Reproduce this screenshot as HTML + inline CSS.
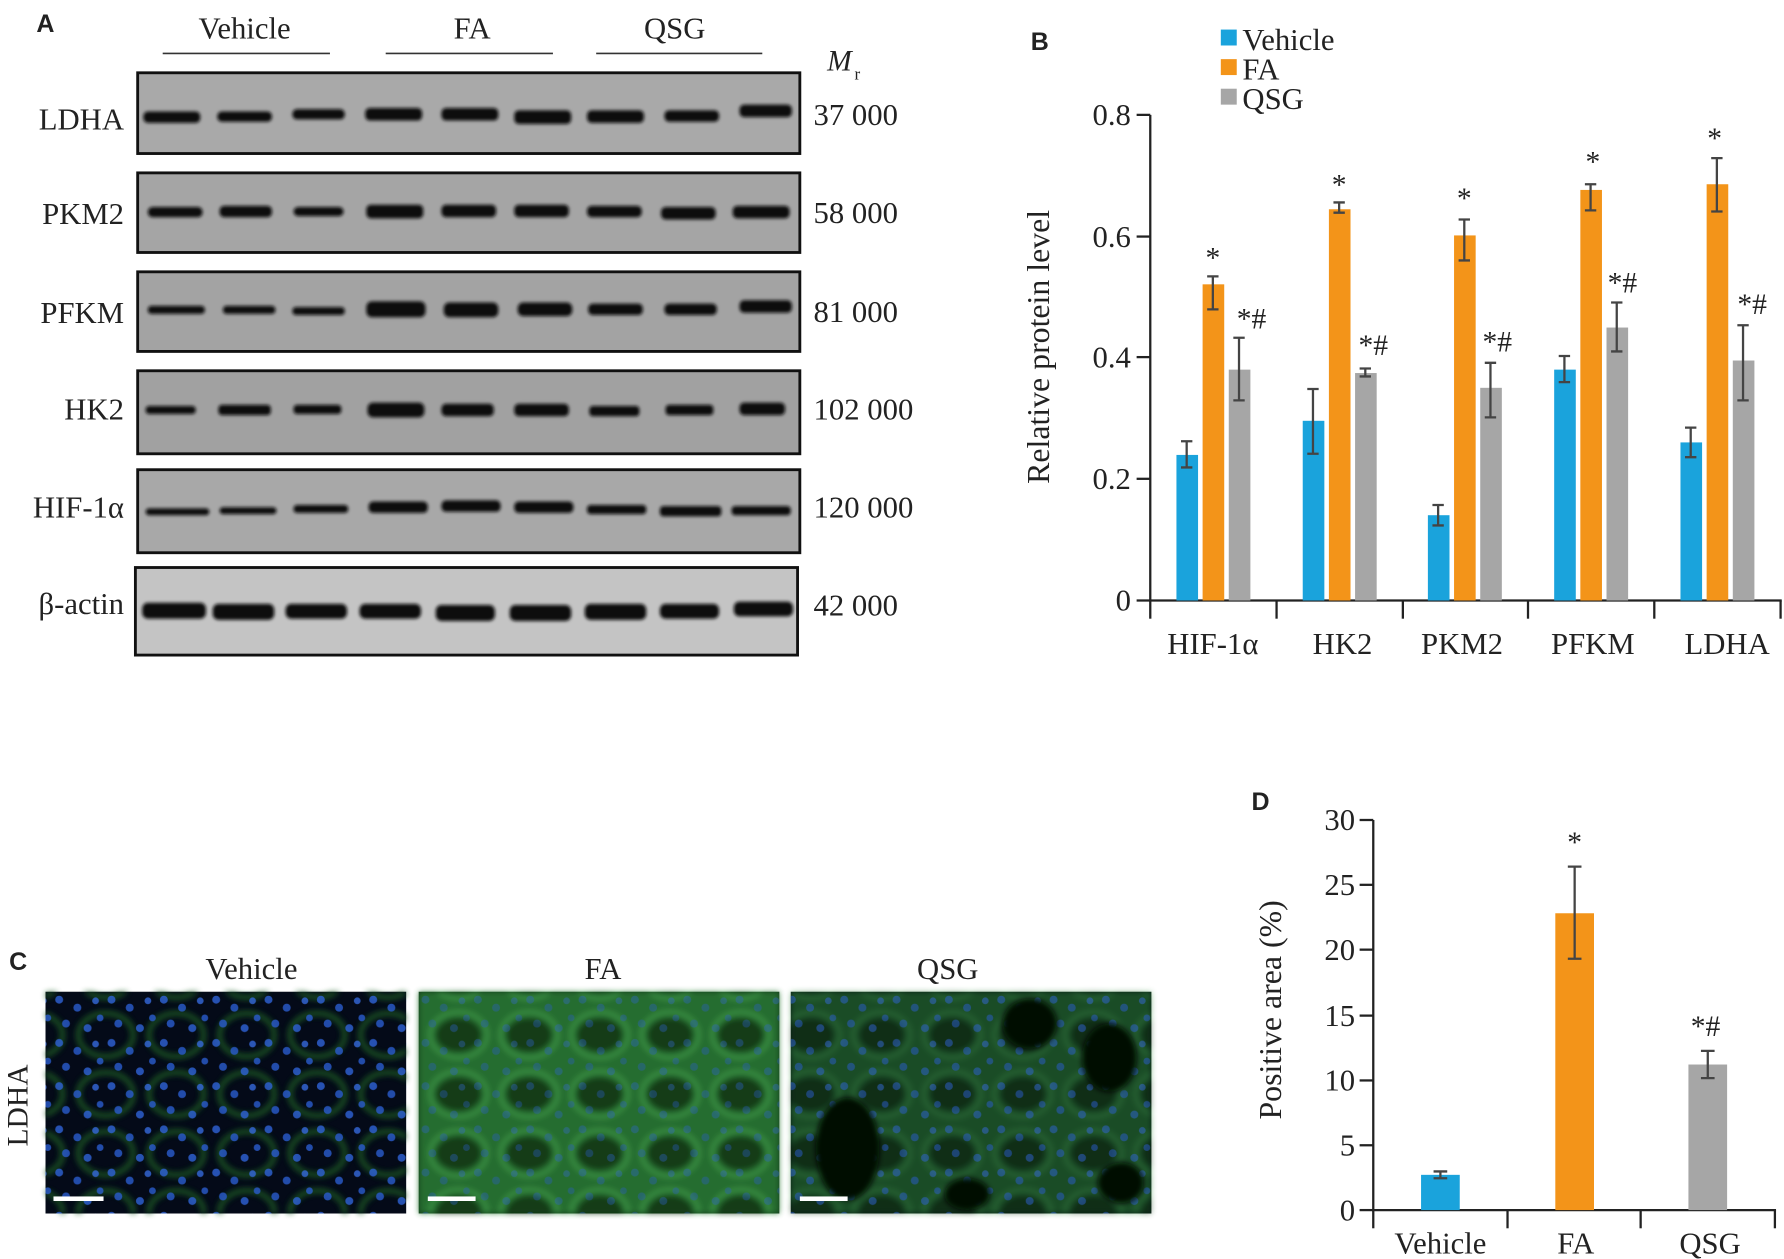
<!DOCTYPE html>
<html><head><meta charset="utf-8"><style>
html,body{margin:0;padding:0;background:#fff;}
svg{display:block;}
text{font-family:"Liberation Serif",serif;fill:#222;}
.pl{font-family:"Liberation Sans",sans-serif;font-weight:bold;font-size:22px;}
</style></head><body>
<svg width="1784" height="1259" viewBox="0 0 1568 1107" preserveAspectRatio="none" xmlns="http://www.w3.org/2000/svg">
<defs>
<filter id="bl"><feGaussianBlur stdDeviation="2.5"/></filter>
<filter id="bl1"><feGaussianBlur stdDeviation="1.3"/></filter>
<pattern id="nuc" width="46" height="38" patternUnits="userSpaceOnUse">
<circle cx="6" cy="5" r="3.5" fill="#2f63d8"/><circle cx="22" cy="12" r="3.5" fill="#2a5ccf"/><circle cx="38" cy="6" r="3" fill="#3569dc"/><circle cx="12" cy="26" r="3.5" fill="#2a5ccf"/><circle cx="31" cy="30" r="3.5" fill="#2f63d8"/><circle cx="42" cy="21" r="3" fill="#2a5ccf"/></pattern>
<pattern id="ring" width="62" height="52" patternUnits="userSpaceOnUse">
<ellipse cx="31" cy="26" rx="24" ry="19" fill="none" stroke="#1a5a24" stroke-width="5"/></pattern>
<pattern id="ringB" width="62" height="52" patternUnits="userSpaceOnUse">
<rect width="62" height="52" fill="#2a7a34"/>
<ellipse cx="31" cy="26" rx="20" ry="15" fill="#123c18"/>
<ellipse cx="31" cy="26" rx="25" ry="20" fill="none" stroke="#45a850" stroke-width="3"/></pattern>
</defs>

<!-- Panel A -->
<text x="32" y="28" class="pl">A</text>
<g font-size="27" text-anchor="middle">
<text x="215" y="34">Vehicle</text><text x="415" y="34">FA</text><text x="593" y="34">QSG</text></g>
<g stroke="#333" stroke-width="1.5"><line x1="143" y1="47" x2="290" y2="47"/><line x1="339" y1="47" x2="486" y2="47"/><line x1="524" y1="47" x2="670" y2="47"/></g>
<text x="727" y="62" font-size="26" font-style="italic">M</text><text x="751" y="70" font-size="15">r</text>

<g id="blots">
<rect x="121" y="64" width="582" height="71" fill="#a9a9a9" stroke="#111" stroke-width="2.5"/>
<rect x="121" y="152" width="582" height="70" fill="#a5a5a5" stroke="#111" stroke-width="2.5"/>
<rect x="121" y="239" width="582" height="70" fill="#a3a3a3" stroke="#111" stroke-width="2.5"/>
<rect x="121" y="326" width="582" height="73" fill="#a1a1a1" stroke="#111" stroke-width="2.5"/>
<rect x="121" y="413" width="582" height="73" fill="#a8a8a8" stroke="#111" stroke-width="2.5"/>
<rect x="119" y="499" width="582" height="77" fill="#c4c4c4" stroke="#111" stroke-width="2.5"/>
<g fill="#111" filter="url(#bl1)">
<rect x="126" y="98" width="50" height="10" rx="4"/><rect x="191" y="98" width="48" height="9" rx="4"/><rect x="257" y="96" width="46" height="9" rx="4"/><rect x="321" y="95" width="50" height="11" rx="4"/><rect x="388" y="95" width="50" height="11" rx="4"/><rect x="452" y="97" width="50" height="12" rx="4"/><rect x="516" y="97" width="50" height="11" rx="4"/><rect x="584" y="97" width="48" height="10" rx="4"/><rect x="650" y="92" width="46" height="11" rx="4"/>
<rect x="130" y="182" width="48" height="9" rx="4"/><rect x="193" y="181" width="46" height="10" rx="4"/><rect x="258" y="182" width="44" height="8" rx="4"/><rect x="322" y="180" width="50" height="12" rx="4"/><rect x="388" y="180" width="48" height="11" rx="4"/><rect x="452" y="180" width="48" height="11" rx="4"/><rect x="516" y="181" width="48" height="10" rx="4"/><rect x="581" y="182" width="48" height="11" rx="4"/><rect x="644" y="181" width="50" height="11" rx="4"/>
<rect x="130" y="269" width="50" height="7" rx="3"/><rect x="196" y="269" width="46" height="7" rx="3"/><rect x="257" y="270" width="46" height="7" rx="3"/><rect x="322" y="265" width="52" height="14" rx="5"/><rect x="390" y="266" width="48" height="13" rx="5"/><rect x="455" y="266" width="48" height="12" rx="5"/><rect x="517" y="267" width="48" height="10" rx="4"/><rect x="584" y="267" width="46" height="10" rx="4"/><rect x="650" y="264" width="46" height="11" rx="4"/>
<rect x="128" y="357" width="44" height="7" rx="3"/><rect x="192" y="356" width="46" height="9" rx="3"/><rect x="258" y="356" width="42" height="8" rx="3"/><rect x="323" y="354" width="50" height="13" rx="5"/><rect x="388" y="355" width="46" height="11" rx="4"/><rect x="452" y="355" width="48" height="11" rx="4"/><rect x="518" y="357" width="44" height="9" rx="3"/><rect x="585" y="356" width="42" height="9" rx="3"/><rect x="650" y="354" width="40" height="11" rx="4"/>
<rect x="128" y="447" width="56" height="6" rx="3"/><rect x="193" y="446" width="50" height="6" rx="3"/><rect x="258" y="444" width="48" height="7" rx="3"/><rect x="324" y="441" width="52" height="10" rx="4"/><rect x="388" y="440" width="52" height="10" rx="4"/><rect x="452" y="441" width="52" height="10" rx="4"/><rect x="516" y="444" width="52" height="8" rx="3"/><rect x="580" y="445" width="54" height="9" rx="3"/><rect x="643" y="445" width="52" height="8" rx="3"/>
<rect x="125" y="530" width="56" height="14" rx="5"/><rect x="187" y="531" width="54" height="14" rx="5"/><rect x="251" y="531" width="54" height="13" rx="5"/><rect x="316" y="531" width="54" height="13" rx="5"/><rect x="383" y="532" width="52" height="14" rx="5"/><rect x="448" y="532" width="54" height="14" rx="5"/><rect x="514" y="531" width="54" height="14" rx="5"/><rect x="580" y="531" width="52" height="13" rx="5"/><rect x="645" y="529" width="52" height="13" rx="5"/>
</g></g>
<g font-size="27" text-anchor="end">
<text x="109" y="114">LDHA</text><text x="109" y="197">PKM2</text><text x="109" y="284">PFKM</text><text x="109" y="369">HK2</text><text x="109" y="455">HIF-1α</text><text x="109" y="540">β-actin</text></g>
<g font-size="27">
<text x="715" y="110">37 000</text><text x="715" y="196">58 000</text><text x="715" y="283">81 000</text><text x="715" y="369">102 000</text><text x="715" y="455">120 000</text><text x="715" y="541">42 000</text></g>

<!-- Panel B -->
<text x="906" y="44" class="pl">B</text>
<rect x="1073" y="26" width="14" height="14" fill="#1aa3dc"/><text x="1092" y="44" font-size="27">Vehicle</text>
<rect x="1073" y="52" width="14" height="14" fill="#f39419"/><text x="1092" y="70" font-size="27">FA</text>
<rect x="1073" y="78" width="14" height="14" fill="#a6a6a6"/><text x="1092" y="96" font-size="27">QSG</text>
<g stroke="#222" stroke-width="2" fill="none">
<line x1="1011" y1="101" x2="1011" y2="529"/><line x1="1010" y1="528" x2="1566" y2="528"/>
<line x1="999" y1="101" x2="1011" y2="101"/><line x1="999" y1="208" x2="1011" y2="208"/><line x1="999" y1="314" x2="1011" y2="314"/><line x1="999" y1="421" x2="1011" y2="421"/><line x1="999" y1="528" x2="1011" y2="528"/>
<line x1="1011" y1="528" x2="1011" y2="544"/><line x1="1122" y1="528" x2="1122" y2="544"/><line x1="1233" y1="528" x2="1233" y2="544"/><line x1="1343" y1="528" x2="1343" y2="544"/><line x1="1454" y1="528" x2="1454" y2="544"/><line x1="1565" y1="528" x2="1565" y2="544"/>
</g>
<g font-size="27" text-anchor="end"><text x="994" y="110">0.8</text><text x="994" y="217">0.6</text><text x="994" y="323">0.4</text><text x="994" y="430">0.2</text><text x="994" y="537">0</text></g>
<text transform="translate(922,305) rotate(-90)" font-size="28" text-anchor="middle">Relative protein level</text>
<g font-size="27" text-anchor="middle"><text x="1066" y="575">HIF-1α</text><text x="1180" y="575">HK2</text><text x="1285" y="575">PKM2</text><text x="1400" y="575">PFKM</text><text x="1518" y="575">LDHA</text></g>
<g>
<rect x="1034" y="400" width="19" height="128" fill="#1aa3dc"/><rect x="1057" y="250" width="19" height="278" fill="#f39419"/><rect x="1080" y="325" width="19" height="203" fill="#a6a6a6"/>
<rect x="1145" y="370" width="19" height="158" fill="#1aa3dc"/><rect x="1168" y="184" width="19" height="344" fill="#f39419"/><rect x="1191" y="328" width="19" height="200" fill="#a6a6a6"/>
<rect x="1255" y="453" width="19" height="75" fill="#1aa3dc"/><rect x="1278" y="207" width="19" height="321" fill="#f39419"/><rect x="1301" y="341" width="19" height="187" fill="#a6a6a6"/>
<rect x="1366" y="325" width="19" height="203" fill="#1aa3dc"/><rect x="1389" y="167" width="19" height="361" fill="#f39419"/><rect x="1412" y="288" width="19" height="240" fill="#a6a6a6"/>
<rect x="1477" y="389" width="19" height="139" fill="#1aa3dc"/><rect x="1500" y="162" width="19" height="366" fill="#f39419"/><rect x="1523" y="317" width="19" height="211" fill="#a6a6a6"/>
</g>
<g stroke="#444" stroke-width="2">
<path d="M1043 388V411M1038 388h10M1038 411h10"/><path d="M1066 243V272M1061 243h10M1061 272h10"/><path d="M1089 297V352M1084 297h10M1084 352h10"/>
<path d="M1154 342V399M1149 342h10M1149 399h10"/><path d="M1177 178V187M1172 178h10M1172 187h10"/><path d="M1200 324V331M1195 324h10M1195 331h10"/>
<path d="M1264 444V462M1259 444h10M1259 462h10"/><path d="M1287 193V229M1282 193h10M1282 229h10"/><path d="M1310 319V367M1305 319h10M1305 367h10"/>
<path d="M1375 313V336M1370 313h10M1370 336h10"/><path d="M1398 162V185M1393 162h10M1393 185h10"/><path d="M1421 266V309M1416 266h10M1416 309h10"/>
<path d="M1486 376V402M1481 376h10M1481 402h10"/><path d="M1509 139V186M1504 139h10M1504 186h10"/><path d="M1532 286V352M1527 286h10M1527 352h10"/>
</g>
<g font-size="26" text-anchor="middle">
<text x="1066" y="235">*</text><text x="1100" y="289">*#</text>
<text x="1177" y="171">*</text><text x="1207" y="312">*#</text>
<text x="1287" y="183">*</text><text x="1316" y="309">*#</text>
<text x="1400" y="151">*</text><text x="1426" y="257">*#</text>
<text x="1507" y="130">*</text><text x="1540" y="276">*#</text>
</g>

<!-- Panel C -->
<text x="8" y="853" class="pl">C</text>
<g font-size="27" text-anchor="middle"><text x="221" y="861">Vehicle</text><text x="530" y="861">FA</text><text x="833" y="861">QSG</text></g>
<text transform="translate(24,972) rotate(-90)" font-size="26" text-anchor="middle">LDHA</text>
<rect x="40" y="872" width="317" height="195" fill="#040a18"/>
<rect x="40" y="872" width="317" height="195" fill="url(#ring)" filter="url(#bl)" opacity="0.8"/>
<rect x="40" y="872" width="317" height="195" fill="url(#nuc)" opacity="0.8"/>
<rect x="368" y="872" width="317" height="195" fill="#143a1c"/>
<rect x="368" y="872" width="317" height="195" fill="url(#ringB)" filter="url(#bl)" opacity="0.8"/>
<rect x="368" y="872" width="317" height="195" fill="url(#nuc)" opacity="0.35"/>
<rect x="695" y="872" width="317" height="195" fill="#0a1f18"/>
<rect x="695" y="872" width="317" height="195" fill="url(#ringB)" filter="url(#bl)" opacity="0.5"/>
<rect x="695" y="872" width="317" height="195" fill="url(#nuc)" opacity="0.5"/>
<g fill="#020805" filter="url(#bl)"><ellipse cx="745" cy="1010" rx="28" ry="45"/><ellipse cx="905" cy="900" rx="24" ry="22"/><ellipse cx="975" cy="930" rx="24" ry="30"/><ellipse cx="850" cy="1050" rx="20" ry="14"/><ellipse cx="985" cy="1040" rx="20" ry="18"/></g>
<g fill="#fff"><rect x="47" y="1052" width="44" height="4"/><rect x="376" y="1052" width="42" height="4"/><rect x="703" y="1052" width="42" height="4"/></g>

<!-- Panel D -->
<text x="1100" y="712" class="pl">D</text>
<g stroke="#222" stroke-width="2" fill="none">
<line x1="1207" y1="721" x2="1207" y2="1065"/><line x1="1206" y1="1064" x2="1561" y2="1064"/>
<line x1="1195" y1="721" x2="1207" y2="721"/><line x1="1195" y1="778" x2="1207" y2="778"/><line x1="1195" y1="835" x2="1207" y2="835"/><line x1="1195" y1="893" x2="1207" y2="893"/><line x1="1195" y1="950" x2="1207" y2="950"/><line x1="1195" y1="1007" x2="1207" y2="1007"/><line x1="1195" y1="1064" x2="1207" y2="1064"/>
<line x1="1207" y1="1064" x2="1207" y2="1080"/><line x1="1325" y1="1064" x2="1325" y2="1080"/><line x1="1442" y1="1064" x2="1442" y2="1080"/><line x1="1560" y1="1064" x2="1560" y2="1080"/>
</g>
<g font-size="27" text-anchor="end"><text x="1191" y="730">30</text><text x="1191" y="787">25</text><text x="1191" y="844">20</text><text x="1191" y="902">15</text><text x="1191" y="959">10</text><text x="1191" y="1016">5</text><text x="1191" y="1073">0</text></g>
<text transform="translate(1126,888) rotate(-90)" font-size="28" text-anchor="middle">Positive area (%)</text>
<rect x="1249" y="1033" width="34" height="31" fill="#1aa3dc"/>
<rect x="1367" y="803" width="34" height="261" fill="#f39419"/>
<rect x="1484" y="936" width="34" height="128" fill="#a6a6a6"/>
<g stroke="#444" stroke-width="2">
<path d="M1266 1030V1036M1260 1030h12M1260 1036h12"/><path d="M1384 762V843M1378 762h12M1378 843h12"/><path d="M1501 924V948M1495 924h12M1495 948h12"/></g>
<g font-size="26" text-anchor="middle"><text x="1384" y="749">*</text><text x="1499" y="911">*#</text></g>
<g font-size="27" text-anchor="middle"><text x="1266" y="1102">Vehicle</text><text x="1385" y="1102">FA</text><text x="1503" y="1102">QSG</text></g>
</svg>
</body></html>
